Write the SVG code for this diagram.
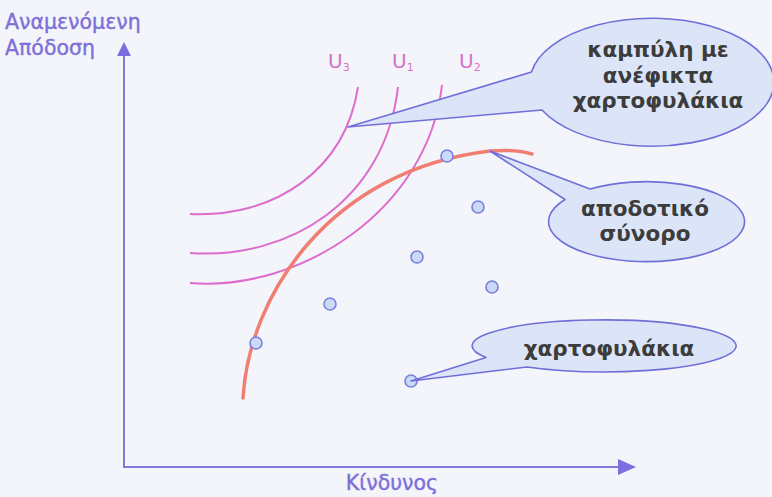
<svg xmlns="http://www.w3.org/2000/svg" width="772" height="497" viewBox="0 0 772 497">
<style>
.axis{stroke:#8478dc;stroke-width:2;fill:none}
.ahead{fill:#7c6ee0}
.alabel{font-family:"DejaVu Sans",sans-serif;font-size:20.5px;fill:#7d70d8;stroke:#7d70d8;stroke-width:0.4}
.ucurve{stroke:#dd6ccc;stroke-width:2;fill:none}
.ulabel{font-family:"DejaVu Sans",sans-serif;font-size:20px;fill:#d870c8}
.usub{font-size:11px}
.front{stroke:#f07e72;stroke-width:3.5;fill:none;stroke-linecap:round}
.dot{fill:#c9d9f6;stroke:#7a80e0;stroke-width:1.6}
.bubble{fill:#dce5f8;stroke:#6f6fd8;stroke-width:1.6;stroke-linejoin:round}
.btext{font-family:"DejaVu Sans",sans-serif;font-weight:bold;font-size:21.5px;fill:#3c3c3c;text-anchor:middle}
</style>
<rect width="772" height="497" fill="#f3f5fb"/>
<g id="axes">
<path class="axis" d="M124,55 V467 H620"/>
<polygon class="ahead" points="124,42 117,56 131,56"/>
<polygon class="ahead" points="636,467 618,459 618,475"/>
<text class="alabel" x="5" y="29">Αναμενόμενη</text>
<text class="alabel" x="5" y="55">Απόδοση</text>
<text class="alabel" x="392" y="490" text-anchor="middle">Κίνδυνος</text>
</g>
<g id="indifference-curves">
<path class="ucurve" d="M190,214 C275,218 345,170 358,87"/>
<path class="ucurve" d="M190,253 C290,260 385,200 398,87"/>
<path class="ucurve" d="M190,283 C300,292 428,210 442,85"/>
<text class="ulabel" x="328" y="68">U<tspan class="usub" dy="3">3</tspan></text>
<text class="ulabel" x="392" y="68">U<tspan class="usub" dy="3">1</tspan></text>
<text class="ulabel" x="459" y="68">U<tspan class="usub" dy="3">2</tspan></text>
</g>
<g id="efficient-frontier">
<path class="front" d="M243,398 C249,295 330,170 490,151 Q515,149 532,154"/>
</g>
<g id="portfolios">
<circle class="dot" cx="447" cy="156" r="6"/>
<circle class="dot" cx="478" cy="207" r="6"/>
<circle class="dot" cx="417" cy="257" r="6"/>
<circle class="dot" cx="492" cy="287" r="6"/>
<circle class="dot" cx="330" cy="304" r="6"/>
<circle class="dot" cx="256" cy="343" r="6"/>
<circle class="dot" cx="411" cy="381" r="6"/>
</g>
<g id="callout-unattainable">
<path class="bubble" d="M531.5,72 L348,127 L542,110 A122,64 0 1 0 531.5,72 Z"/>
<text class="btext" x="658" y="57">καμπύλη με</text>
<text class="btext" x="658" y="83">ανέφικτα</text>
<text class="btext" x="658" y="108">χαρτοφυλάκια</text>
</g>
<g id="callout-frontier">
<path class="bubble" d="M590,189 L490,151 L565,199.5 A98,40 0 1 0 590,189 Z"/>
<text class="btext" x="645" y="216">αποδοτικό</text>
<text class="btext" x="645" y="241">σύνορο</text>
</g>
<g id="callout-portfolios">
<path class="bubble" d="M486,357.5 L411,381 L527,367 A132,26 0 1 0 486,357.5 Z"/>
<text class="btext" x="609" y="356">χαρτοφυλάκια</text>
</g>
</svg>
